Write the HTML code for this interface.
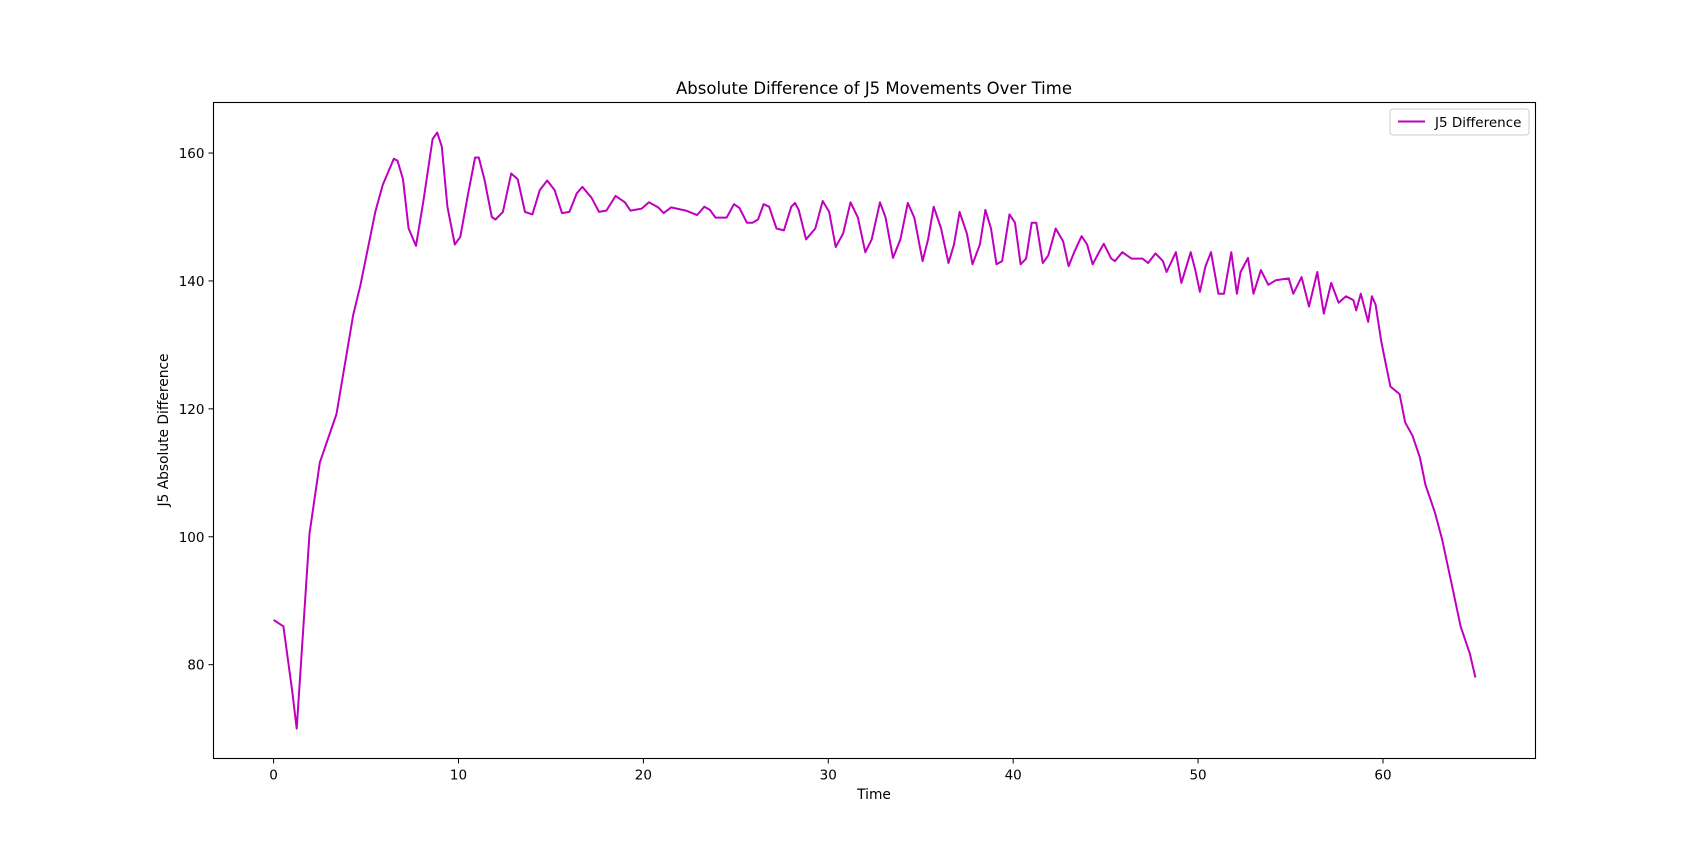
<!DOCTYPE html>
<html><head><meta charset="utf-8"><style>
html,body{margin:0;padding:0;background:#fff}
svg{display:block;font-family:"DejaVu Sans","Liberation Sans",sans-serif}
</style></head><body>
<svg id="chart" width="1706" height="852" viewBox="0 0 1706 852" xmlns="http://www.w3.org/2000/svg">
<rect width="1706" height="852" fill="#fff"/>
<text x="874" y="94" font-size="16.5" text-anchor="middle">Absolute Difference of J5 Movements Over Time</text>
<g id="plot"></g>
<rect x="213.5" y="102.5" width="1322" height="656" fill="none" stroke="#000" stroke-width="1.1"/>
<text x="874" y="799" font-size="13.8" text-anchor="middle">Time</text>
<text transform="translate(168,430) rotate(-90)" font-size="13.8" text-anchor="middle">J5 Absolute Difference</text>
<g>
<rect x="1390" y="109" width="139" height="26" rx="3" fill="#fff" stroke="#ccc"/>
<line x1="1398" y1="121.5" x2="1425" y2="121.5" stroke="#bf00bf" stroke-width="2"/>
<text x="1435" y="127" font-size="13.5">J5 Difference</text>
</g>
</svg>
<script>
const times=[0,0.53,1.0,1.25,1.94,2.5,3.4,4.3,4.7,5.5,5.9,6.5,6.7,7.0,7.3,7.7,8.1,8.6,8.85,9.1,9.4,9.8,10.1,10.5,10.9,11.1,11.4,11.8,12.0,12.4,12.85,13.2,13.6,14.0,14.4,14.8,15.2,15.6,16.0,16.4,16.7,17.2,17.6,18.0,18.5,19.0,19.3,19.9,20.3,20.8,21.1,21.5,22.3,22.9,23.3,23.6,23.9,24.5,24.9,25.2,25.6,25.9,26.2,26.5,26.8,27.2,27.6,28.0,28.2,28.4,28.8,29.3,29.7,30.05,30.4,30.8,31.2,31.6,32.0,32.35,32.8,33.1,33.5,33.9,34.3,34.65,35.1,35.4,35.7,36.1,36.5,36.8,37.1,37.5,37.8,38.2,38.5,38.8,39.1,39.4,39.8,40.1,40.4,40.7,41.0,41.25,41.6,41.9,42.3,42.7,43.0,43.3,43.7,44.0,44.3,44.7,44.9,45.3,45.5,45.9,46.4,47.0,47.3,47.7,48.1,48.3,48.8,49.1,49.6,49.85,50.1,50.4,50.7,51.1,51.4,51.8,52.1,52.3,52.7,53.0,53.4,53.8,54.2,54.9,55.15,55.6,56.0,56.45,56.8,57.2,57.6,58.0,58.4,58.55,58.8,59.2,59.4,59.6,59.9,60.1,60.4,60.9,61.2,61.6,62.0,62.3,62.8,63.2,63.7,64.2,64.7,65.0];
const values=[87,86,76,70,100.5,111.6,119.2,134.6,139.4,150.8,155,159.1,158.8,155.9,148.2,145.5,152.5,162.2,163.2,161,151.6,145.7,146.9,153.3,159.3,159.3,155.9,150,149.6,150.8,156.8,155.9,150.8,150.4,154.2,155.7,154.2,150.6,150.8,153.7,154.7,153,150.8,151,153.3,152.3,151,151.3,152.3,151.5,150.6,151.5,151,150.3,151.6,151.1,149.9,149.9,152,151.4,149.1,149.1,149.6,152,151.6,148.2,147.9,151.6,152.2,151.1,146.5,148.2,152.5,150.8,145.3,147.4,152.3,149.9,144.5,146.5,152.3,149.9,143.6,146.5,152.2,149.9,143.1,146.5,151.6,148.2,142.8,145.7,150.8,147.4,142.6,145.7,151.1,148.2,142.6,143.1,150.4,149.1,142.6,143.5,149.1,149.1,142.8,144,148.2,146.2,142.3,144.5,147,145.7,142.6,144.8,145.8,143.5,143.1,144.5,143.5,143.5,142.8,144.3,143.1,141.4,144.5,139.7,144.5,141.7,138.3,142.3,144.5,138,138,144.5,138,141.4,143.6,138,141.7,139.4,140.1,140.4,138,140.6,136,141.4,134.9,139.7,136.6,137.6,137,135.4,138,133.6,137.6,136.3,130.7,127.8,123.5,122.3,117.9,115.8,112.4,108.1,103.9,99.6,92.8,86,81.7,78];
const xTicks=[0,10,20,30,40,50,60];
const yTicks=[80,100,120,140,160];
const X0=213.5,X1=1535.5,Y0=102.5,Y1=758.5;
const xMin=-3.25,xMax=68.25,yMin=65.33,yMax=167.9;
const sx=v=>X0+(v-xMin)/(xMax-xMin)*(X1-X0);
const sy=v=>Y1-(v-yMin)/(yMax-yMin)*(Y1-Y0);
const NS='http://www.w3.org/2000/svg';
const g=document.getElementById('plot');
function mk(t,a){const e=document.createElementNS(NS,t);for(const k in a)e.setAttribute(k,a[k]);g.appendChild(e);return e;}
xTicks.forEach(t=>{
  const l=mk('line',{x1:sx(t),x2:sx(t),y1:Y1,y2:Y1+5,stroke:'#000'});
  
  
  const tx=mk('text',{x:sx(t),y:Y1+21,'font-size':13.5,'text-anchor':'middle'});
  tx.textContent=t;
  
  
});
yTicks.forEach(t=>{
  const l=mk('line',{x1:X0-5,x2:X0,y1:sy(t),y2:sy(t),stroke:'#000'});
  
  
  const tx=mk('text',{x:X0-9,y:sy(t)+5,'font-size':13.5,'text-anchor':'end'});
  tx.textContent=t;
  
  
});
const d=times.map((t,i)=>(i?'L':'M')+sx(t).toFixed(1)+','+sy(values[i]).toFixed(1)).join('');
const p=mk('path',{d:d,fill:'none',stroke:'#bf00bf','stroke-width':2,'stroke-linejoin':'round'});


</script>
</body></html>
